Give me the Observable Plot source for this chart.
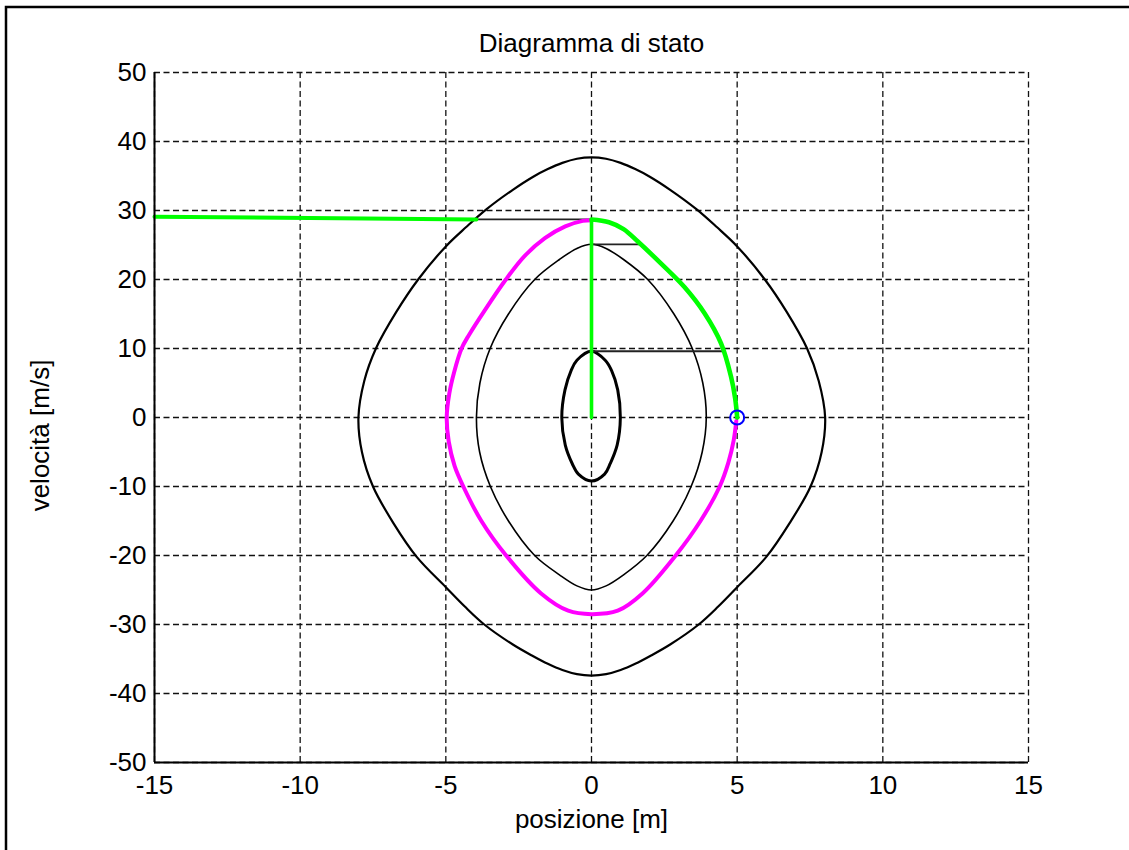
<!DOCTYPE html>
<html>
<head>
<meta charset="utf-8">
<script src="https://cdn.jsdelivr.net/npm/d3@7"></script>
<script src="https://cdn.jsdelivr.net/npm/@observablehq/plot@0.6"></script>
<style>
  html, body { margin: 0; padding: 0; background: #fff; overflow: hidden; }
  #chart svg { display: block; }
</style>
</head>
<body>
<div id="chart"></div>
<script>
// Phase-plane diagram: position [m] vs velocity [m/s]
const title = "Diagramma di stato";
const xLabel = "posizione [m]";
const yLabel = "velocità [m/s]";
const xTicks = [-15, -10, -5, 0, 5, 10, 15];
const yTicks = [-50, -40, -30, -20, -10, 0, 10, 20, 30, 40, 50];

// Outer closed orbit [position, velocity]
const bigOrbit = [
  [0, 37.7], [-0.5, 37.5], [-1.0, 36.9], [-1.5, 36.0], [-2.0, 34.9], [-2.7, 33.0],
  [-3.6, 30.2], [-4.3, 27.6], [-5.0, 24.8], [-5.95, 20.0], [-6.7, 15.3], [-7.4, 10.0],
  [-7.8, 5.3], [-8.0, 0],
  [-7.88, -5.0], [-7.5, -10.0], [-6.8, -15.3], [-6.0, -20.2], [-5.0, -24.6], [-4.35, -27.4],
  [-3.68, -30.0], [-2.7, -32.9], [-2.0, -34.6], [-1.5, -35.7], [-1.0, -36.6], [-0.5, -37.2],
  [0, -37.4],
  [0.5, -37.2], [1.0, -36.6], [1.5, -35.7], [2.0, -34.6], [2.7, -32.9], [3.68, -30.0],
  [4.35, -27.4], [5.0, -24.6], [6.0, -20.2], [6.8, -15.3], [7.52, -10.0], [7.9, -5.0],
  [8.02, 0],
  [7.8, 5.3], [7.4, 10.0], [6.7, 15.3], [5.95, 20.0], [5.0, 24.8], [4.3, 27.6],
  [3.6, 30.2], [2.7, 33.0], [2.0, 34.9], [1.5, 36.0], [1.0, 36.9], [0.5, 37.5]
];

// Middle closed orbit
const midOrbit = [
  [0, 25.1], [-0.5, 24.5], [-1.1, 22.9], [-1.95, 20.0], [-2.85, 15.0], [-3.48, 10.0],
  [-3.83, 5.0], [-3.95, 0],
  [-3.84, -5.0], [-3.47, -10.0], [-2.85, -15.0], [-1.95, -20.0], [-1.1, -22.8], [-0.5, -24.4],
  [0, -25.0],
  [0.5, -24.4], [1.1, -22.8], [1.9, -20.0], [2.8, -15.0], [3.42, -10.0], [3.8, -5.0],
  [3.94, 0],
  [3.82, 5.0], [3.46, 10.0], [2.83, 15.0], [1.93, 20.0], [1.1, 22.9], [0.5, 24.5]
];

// Inner closed orbit
const innerOrbit = [
  [0, 9.6], [-0.5, 8.3], [-0.7, 6.8], [-0.91, 4.0], [-1.02, 0], [-0.9, -4.0],
  [-0.66, -6.7], [-0.45, -8.2], [0, -9.2], [0.45, -8.2], [0.64, -6.7], [0.88, -4.0],
  [0.99, 0], [0.9, 4.0], [0.69, 6.8], [0.47, 8.3]
];

// Magenta trajectory ending at the target point
const magentaPath = [
  [0, 28.6], [-0.3, 28.5], [-0.9, 27.7], [-1.6, 26.0], [-2.3, 23.4], [-2.94, 20.0],
  [-3.67, 15.5], [-4.2, 12.0], [-4.46, 10.0], [-4.72, 6.5], [-4.88, 3.5], [-4.97, 0],
  [-4.9, -3.5], [-4.7, -7.0], [-4.4, -10.0], [-3.78, -15.0], [-2.93, -20.0],
  [-1.73, -25.5], [-0.8, -28.0], [0, -28.5], [0.9, -28.0], [1.75, -25.5], [2.89, -20.0],
  [3.74, -15.0], [4.4, -10.0], [4.7, -6.5], [4.88, -3.3], [4.97, -0.5]
];

// Green switching curve and its segments
const greenArc = [
  [0, 28.7], [0.6, 28.3], [1.1, 27.3], [1.59, 25.5], [2.39, 22.3], [3.19, 18.9],
  [3.88, 15.1], [4.45, 10.7], [4.79, 5.9], [4.93, 2.8], [5.0, 0]
];
const greenAxis = [[0, 28.7], [0, 0]];
const greenEntry = [[-15, 29.1], [-3.95, 28.7]];

// Horizontal links between orbits
const links = [
  [[-3.95, 28.7], [0, 28.7]],
  [[0, 25.1], [1.68, 25.1]],
  [[0, 9.6], [4.5, 9.6]]
];

// Target point
const target = [[5, 0]];

const FONT = "'Liberation Sans', Arial, Helvetica, sans-serif";
const px = d => d[0], py = d => d[1];
const gridStyle = {stroke: "#111", strokeOpacity: 1, strokeWidth: 1.3, strokeDasharray: "6,3.5"};
const plain = d => String(d);

const chart = Plot.plot({
  width: 1129,
  height: 850,
  marginLeft: 154,
  marginRight: 101,
  marginTop: 72,
  marginBottom: 88,
  x: {domain: [-15, 15], label: null},
  y: {domain: [-50, 50], label: null},
  style: {fontFamily: FONT, fontSize: "26px", color: "#000", background: "#fff"},
  marks: [
    Plot.gridX(xTicks, gridStyle),
    Plot.gridY(yTicks, gridStyle),
    Plot.line(bigOrbit, {x: px, y: py, curve: "catmull-rom-closed", stroke: "#000", strokeWidth: 2.2}),
    Plot.line(midOrbit, {x: px, y: py, curve: "catmull-rom-closed", stroke: "#000", strokeWidth: 1.6}),
    Plot.line(innerOrbit, {x: px, y: py, curve: "catmull-rom-closed", stroke: "#000", strokeWidth: 3}),
    ...links.map(seg => Plot.line(seg, {x: px, y: py, stroke: "#222", strokeWidth: 1.8})),
    Plot.line(magentaPath, {x: px, y: py, curve: "catmull-rom", stroke: "#ff00ff", strokeWidth: 4}),
    Plot.line(greenEntry, {x: px, y: py, stroke: "#00ff00", strokeWidth: 4}),
    Plot.line(greenAxis, {x: px, y: py, stroke: "#00ff00", strokeWidth: 3.6}),
    Plot.line(greenArc, {x: px, y: py, curve: "catmull-rom", stroke: "#00ff00", strokeWidth: 4.6}),
    Plot.dot(target, {x: px, y: py, r: 7, stroke: "#0000ff", strokeWidth: 2, fill: "none"}),
    Plot.ruleX([-15], {stroke: "#000", strokeWidth: 2}),
    Plot.ruleY([-50], {stroke: "#000", strokeWidth: 2}),
    Plot.axisX(xTicks, {tickSize: 0, tickPadding: 13, label: null, tickFormat: plain, fontSize: 26}),
    Plot.axisY(yTicks, {tickSize: 0, tickPadding: 8, label: null, tickFormat: plain, fontSize: 26}),
    Plot.text([title], {text: d => d, frameAnchor: "top", dy: -29, lineAnchor: "middle", fontSize: 26}),
    Plot.text([xLabel], {text: d => d, frameAnchor: "bottom", dy: 57, lineAnchor: "middle", fontSize: 26}),
    Plot.text([yLabel], {text: d => d, frameAnchor: "left", dx: -114, dy: 18, rotate: -90,
                         textAnchor: "middle", lineAnchor: "middle", fontSize: 26})
  ]
});

// Figure window edge along the top and left sides
const svg = d3.select(chart);
svg.append("path")
  .attr("d", "M6,851V7H1131")
  .attr("fill", "none")
  .attr("stroke", "#000")
  .attr("stroke-width", 2.5);

document.getElementById("chart").appendChild(chart);
</script>
</body>
</html>
